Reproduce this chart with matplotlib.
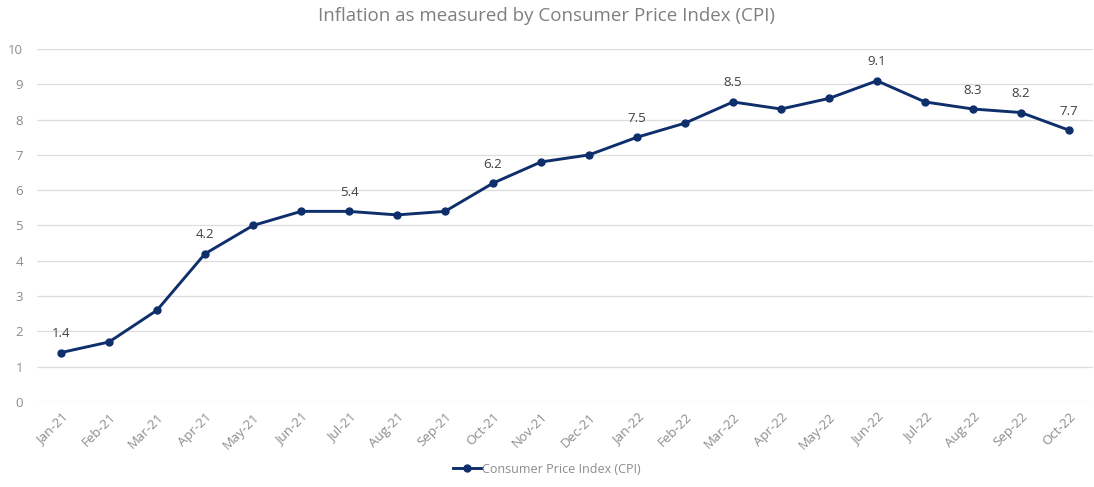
import matplotlib
matplotlib.use("Agg")
import matplotlib.pyplot as plt

months = ["Jan-21", "Feb-21", "Mar-21", "Apr-21", "May-21", "Jun-21", "Jul-21", "Aug-21",
          "Sep-21", "Oct-21", "Nov-21", "Dec-21", "Jan-22", "Feb-22", "Mar-22", "Apr-22",
          "May-22", "Jun-22", "Jul-22", "Aug-22", "Sep-22", "Oct-22"]
cpi = [1.4, 1.7, 2.6, 4.2, 5.0, 5.4, 5.4, 5.3, 5.4, 6.2, 6.8, 7.0, 7.5, 7.9, 8.5, 8.3,
       8.6, 9.1, 8.5, 8.3, 8.2, 7.7]
labeled = ["Jan-21", "Apr-21", "Jul-21", "Oct-21", "Jan-22", "Mar-22", "Jun-22",
           "Aug-22", "Sep-22", "Oct-22"]
yticks = list(range(0, 11))

plt.rcParams['font.family'] = ['Open Sans', 'DejaVu Sans']
color = "#0e2f6b"
grey = "#8c8c8c"

fig = plt.figure(figsize=(10.94, 4.87), dpi=100)
ax = fig.add_axes([37/1094, 1-402/487, (1093-37)/1094, (402-49)/487])

x = list(range(len(months)))
ax.plot(x, cpi, color=color, lw=2.1, marker='o', ms=5, label="Consumer Price Index (CPI)")
for xi, m, v in zip(x, months, cpi):
    if m in labeled:
        ax.annotate(f"{v:.1f}", (xi, v), xytext=(0, 9), textcoords='offset points',
                    ha='center', va='bottom', fontsize=9.5, color="#404040")

ax.set_xlim(-0.5, len(months) - 0.5)
ax.set_ylim(0, 10)
ax.set_yticks(yticks)
ax.set_xticks(x)
ax.set_xticklabels(months, rotation=45, ha='right', rotation_mode='anchor')
ax.tick_params(axis='both', length=0, colors=grey, labelsize=9.5)
ax.tick_params(axis='y', pad=10)
ax.tick_params(axis='x', pad=6)
ax.grid(axis='y', color="#dedede", lw=0.9)
ax.set_axisbelow(True)
for s in ax.spines.values():
    s.set_visible(False)

fig.suptitle("Inflation as measured by Consumer Price Index (CPI)", y=0.985,
             fontsize=13.5, color="#7f7f7f")
fig.legend(loc='lower center', bbox_to_anchor=(0.5, 0.0), frameon=False, fontsize=9,
           labelcolor=grey, handlelength=2.2, handletextpad=0.1)

fig.savefig("out.png", dpi=100)
